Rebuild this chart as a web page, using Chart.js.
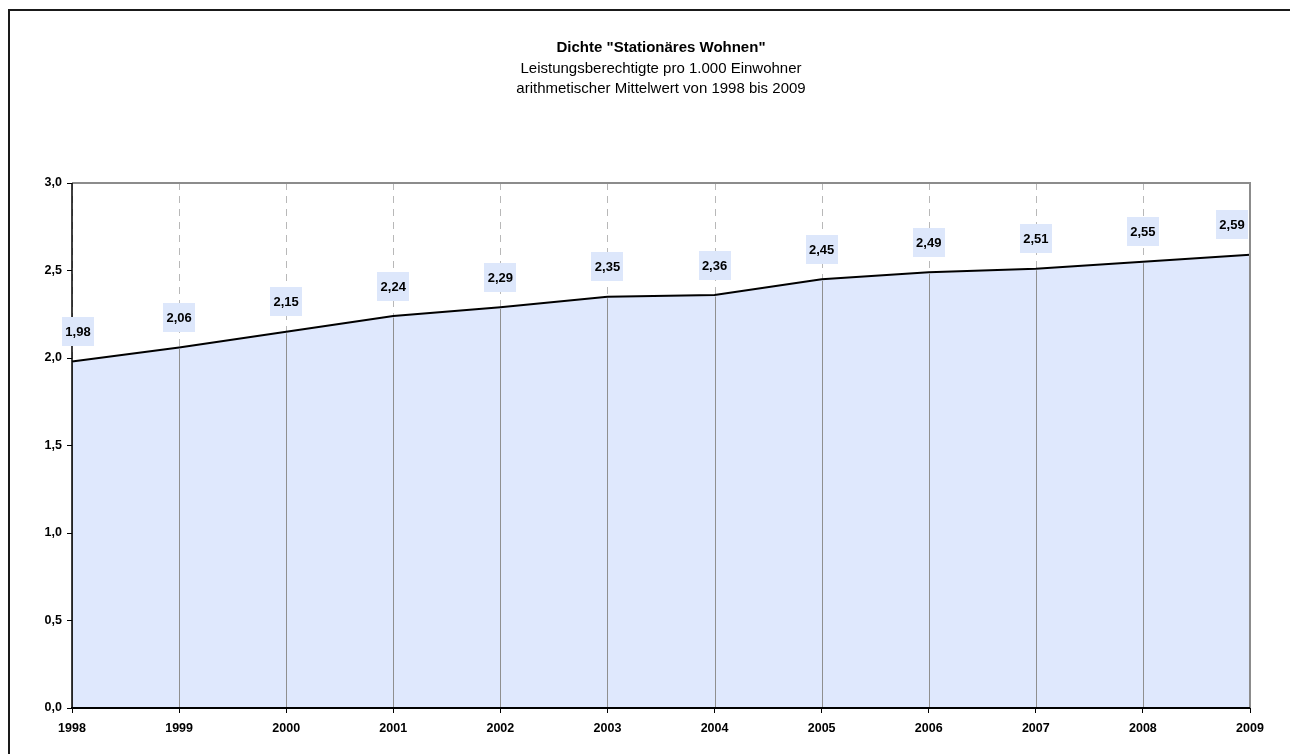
<!DOCTYPE html>
<html>
<head>
<meta charset="utf-8">
<script src="https://cdn.jsdelivr.net/npm/chart.js@4"></script>
<style>
  html, body { margin: 0; padding: 0; background: #fff; overflow: hidden; }
  canvas { display: block; }
</style>
</head>
<body>
<canvas id="c" width="1290" height="754"></canvas>
<script>
// Chart text
const titleLines = [
  'Dichte "Stationäres Wohnen"',
  'Leistungsberechtigte pro 1.000 Einwohner',
  'arithmetischer Mittelwert von 1998 bis 2009'
];

// Categories and values
const years = ['1998', '1999', '2000', '2001', '2002', '2003', '2004', '2005', '2006', '2007', '2008', '2009'];
const dichte = [1.98, 2.06, 2.15, 2.24, 2.29, 2.35, 2.36, 2.45, 2.49, 2.51, 2.55, 2.59];

// Value axis range
const yMin = 0;
const yMax = 3;
const yStep = 0.5;

const FONT = 'Arial, "Liberation Sans", sans-serif';
const fmt = (v, d) => v.toFixed(d).replace('.', ',');

// Background, outer frame and the three title lines
const framePlugin = {
  id: 'frame',
  beforeDraw(chart) {
    const { ctx, chartArea: a } = chart;
    ctx.save();
    ctx.fillStyle = '#fff';
    ctx.fillRect(0, 0, chart.width, chart.height);
    ctx.strokeStyle = '#1a1a1a';
    ctx.lineWidth = 2;
    ctx.beginPath();
    ctx.moveTo(9, chart.height + 5);
    ctx.lineTo(9, 10);
    ctx.lineTo(chart.width + 5, 10);
    ctx.stroke();

    const cx = (a.left + a.right) / 2;
    ctx.fillStyle = '#000';
    ctx.textAlign = 'center';
    ctx.textBaseline = 'alphabetic';
    ctx.font = 'bold 15px ' + FONT;
    ctx.fillText(titleLines[0], cx, 52);
    ctx.font = '15px ' + FONT;
    ctx.fillText(titleLines[1], cx, 73);
    ctx.fillText(titleLines[2], cx, 93);
    ctx.restore();
  }
};

// Dashed vertical gridlines behind the filled area
const gridPlugin = {
  id: 'dashedGrid',
  beforeDatasetsDraw(chart) {
    const { ctx, chartArea: a, scales: { x } } = chart;
    ctx.save();
    ctx.strokeStyle = '#b8b8b8';
    ctx.lineWidth = 1;
    ctx.setLineDash([7, 6]);
    years.forEach((_, i) => {
      const px = Math.round(x.getPixelForValue(i)) + 0.5;
      ctx.beginPath();
      ctx.moveTo(px, a.top);
      ctx.lineTo(px, a.bottom);
      ctx.stroke();
    });
    ctx.restore();
  }
};

// Drop lines, plot frame, axis lines and value labels
const overlayPlugin = {
  id: 'overlay',
  afterDatasetsDraw(chart) {
    const { ctx, chartArea: a } = chart;
    const meta = chart.getDatasetMeta(0);
    ctx.save();

    // drop lines from each point to the category axis
    ctx.strokeStyle = '#8f8f8f';
    ctx.lineWidth = 1;
    meta.data.forEach(pt => {
      const px = Math.round(pt.x) + 0.5;
      ctx.beginPath();
      ctx.moveTo(px, pt.y + 1.5);
      ctx.lineTo(px, a.bottom);
      ctx.stroke();
    });

    // top and right frame of the plot area
    ctx.strokeStyle = '#8c8c8c';
    ctx.lineWidth = 2;
    ctx.beginPath();
    ctx.moveTo(a.left, a.top);
    ctx.lineTo(a.right, a.top);
    ctx.lineTo(a.right, a.bottom);
    ctx.stroke();

    // axis lines
    ctx.strokeStyle = '#000';
    ctx.lineWidth = 1.5;
    ctx.beginPath();
    ctx.moveTo(a.left, a.top);
    ctx.lineTo(a.left, a.bottom);
    ctx.stroke();
    ctx.lineWidth = 2;
    ctx.beginPath();
    ctx.moveTo(a.left - 1, a.bottom);
    ctx.lineTo(a.right, a.bottom);
    ctx.stroke();

    // value labels in shaded boxes above the points
    ctx.font = 'bold 13px ' + FONT;
    ctx.textAlign = 'center';
    ctx.textBaseline = 'middle';
    meta.data.forEach((pt, i) => {
      const txt = fmt(dichte[i], 2);
      const w = Math.ceil(ctx.measureText(txt).width) + 6;
      const h = 29;
      let cx = pt.x;
      cx = Math.max(cx, a.left - 10 + w / 2);
      cx = Math.min(cx, a.right - 2 - w / 2);
      const cy = pt.y - 30;
      ctx.fillStyle = '#dde7fb';
      ctx.fillRect(Math.round(cx - w / 2), Math.round(cy - h / 2), w, h);
      ctx.fillStyle = '#000';
      ctx.fillText(txt, cx, cy + 1);
    });
    ctx.restore();
  }
};

new Chart(document.getElementById('c'), {
  type: 'line',
  data: {
    labels: years,
    datasets: [{
      data: dichte,
      borderColor: '#000',
      borderWidth: 2,
      backgroundColor: '#dfe8fd',
      fill: 'origin',
      tension: 0,
      pointRadius: 0,
      pointHoverRadius: 0
    }]
  },
  options: {
    responsive: false,
    animation: false,
    devicePixelRatio: 1,
    layout: { padding: { top: 183, right: 40, bottom: 0, left: 0 } },
    plugins: {
      legend: { display: false },
      tooltip: { enabled: false },
      title: { display: false }
    },
    scales: {
      x: {
        type: 'category',
        offset: false,
        grid: { drawOnChartArea: false, tickColor: '#000', tickLength: 5, tickWidth: 1 },
        border: { display: false },
        ticks: {
          color: '#000',
          font: { family: FONT, size: 12.5, weight: 'bold' },
          padding: 8,
          maxRotation: 0,
          autoSkip: false
        },
        afterFit(s) { s.height = 46; }
      },
      y: {
        min: yMin,
        max: yMax,
        grid: { drawOnChartArea: false, tickColor: '#000', tickLength: 5, tickWidth: 1 },
        border: { display: false },
        ticks: {
          stepSize: yStep,
          color: '#000',
          font: { family: FONT, size: 12.5, weight: 'bold' },
          padding: 5,
          callback: v => fmt(v, 1)
        },
        afterFit(s) { s.width = 72; }
      }
    }
  },
  plugins: [framePlugin, gridPlugin, overlayPlugin]
});
</script>
</body>
</html>
